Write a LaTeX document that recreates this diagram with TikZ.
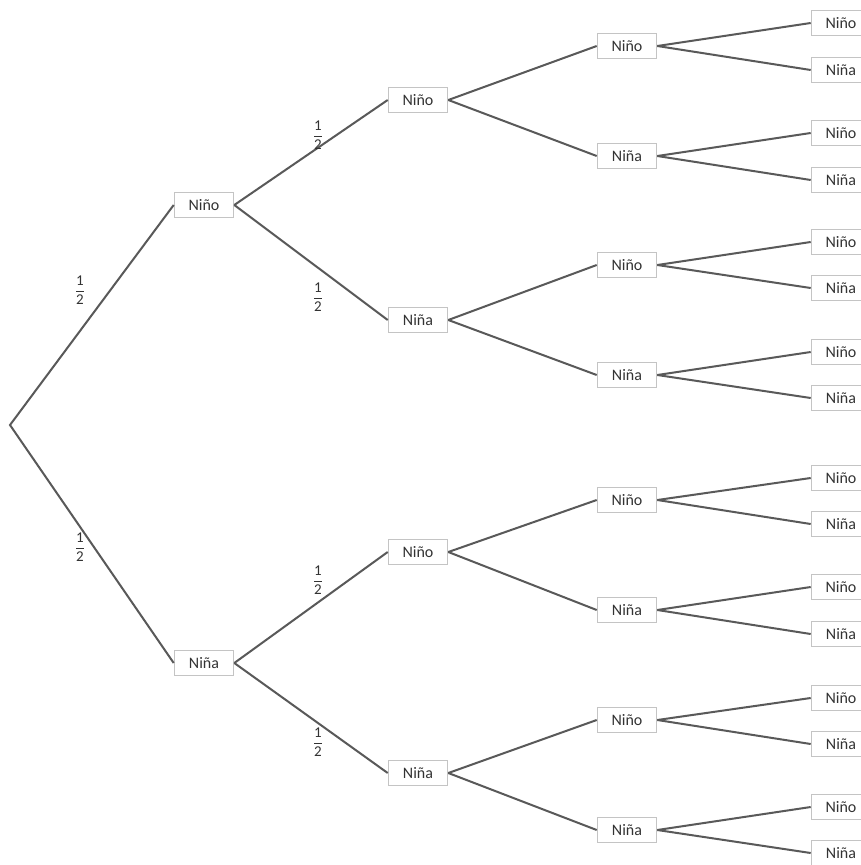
\documentclass[tikz,border=0pt]{standalone}
\usepackage{amsmath}
\usepackage{fontspec}
\setmainfont{Carlito}
\definecolor{ln}{HTML}{595959}
\definecolor{bx}{HTML}{C4C4C4}
\definecolor{tx}{HTML}{333333}
\begin{document}
\begin{tikzpicture}[x=1pt,y=-1pt,
  box/.style={draw=bx, line width=1.6pt, fill=white, text=tx, minimum width=59pt, minimum height=25pt, inner sep=0pt, font=\fontsize{16}{18}\selectfont},
  edge/.style={draw=ln, line width=2pt},
  prob/.style={text=tx, inner sep=0pt, font=\fontsize{15}{17}\selectfont}]
\path[use as bounding box, clip] (0,0) rectangle (861,865);
\fill[white] (0,0) rectangle (861,865);
% root
\coordinate (r) at (10,425);
% level 1
\node[box] (a1) at (204,205) {Niño};
\node[box] (a2) at (204,663) {Niña};
% level 2
\node[box] (b1) at (418,100) {Niño};
\node[box] (b2) at (418,320) {Niña};
\node[box] (b3) at (418,552) {Niño};
\node[box] (b4) at (418,773) {Niña};
% level 3
\foreach \i/\y/\t in {1/46/Niño,2/156/Niña,3/265/Niño,4/375/Niña,5/500/Niño,6/610/Niña,7/720/Niño,8/830/Niña}
  \node[box] (c\i) at (627,\y) {\t};
% level 4
\foreach \i/\y/\t in {1/23/Niño,2/70/Niña,3/133/Niño,4/180/Niña,5/242/Niño,6/288/Niña,7/352/Niño,8/398/Niña,
  9/478/Niño,10/524/Niña,11/587/Niño,12/634/Niña,13/698/Niño,14/744/Niña,15/807/Niño,16/853/Niña}
  \node[box] (d\i) at (841,\y) {\t};
% edges
\draw[edge] (a1.west) -- (r) -- (a2.west);
\foreach \p/\c in {a1/b1,a1/b2,a2/b3,a2/b4,
  b1/c1,b1/c2,b2/c3,b2/c4,b3/c5,b3/c6,b4/c7,b4/c8,
  c1/d1,c1/d2,c2/d3,c2/d4,c3/d5,c3/d6,c4/d7,c4/d8,
  c5/d9,c5/d10,c6/d11,c6/d12,c7/d13,c7/d14,c8/d15,c8/d16}
  \draw[edge] (\p.east) -- (\c.west);
% probabilities
\foreach \n/\x/\y in {p1/80/290,p2/80/547,p3/318/135,p4/318/297,p5/318/580,p6/318/742}
  \node[prob] (\n) at (\x,\y) {$\displaystyle\frac{\text{1}}{\text{2}}$};
\end{tikzpicture}
\end{document}
